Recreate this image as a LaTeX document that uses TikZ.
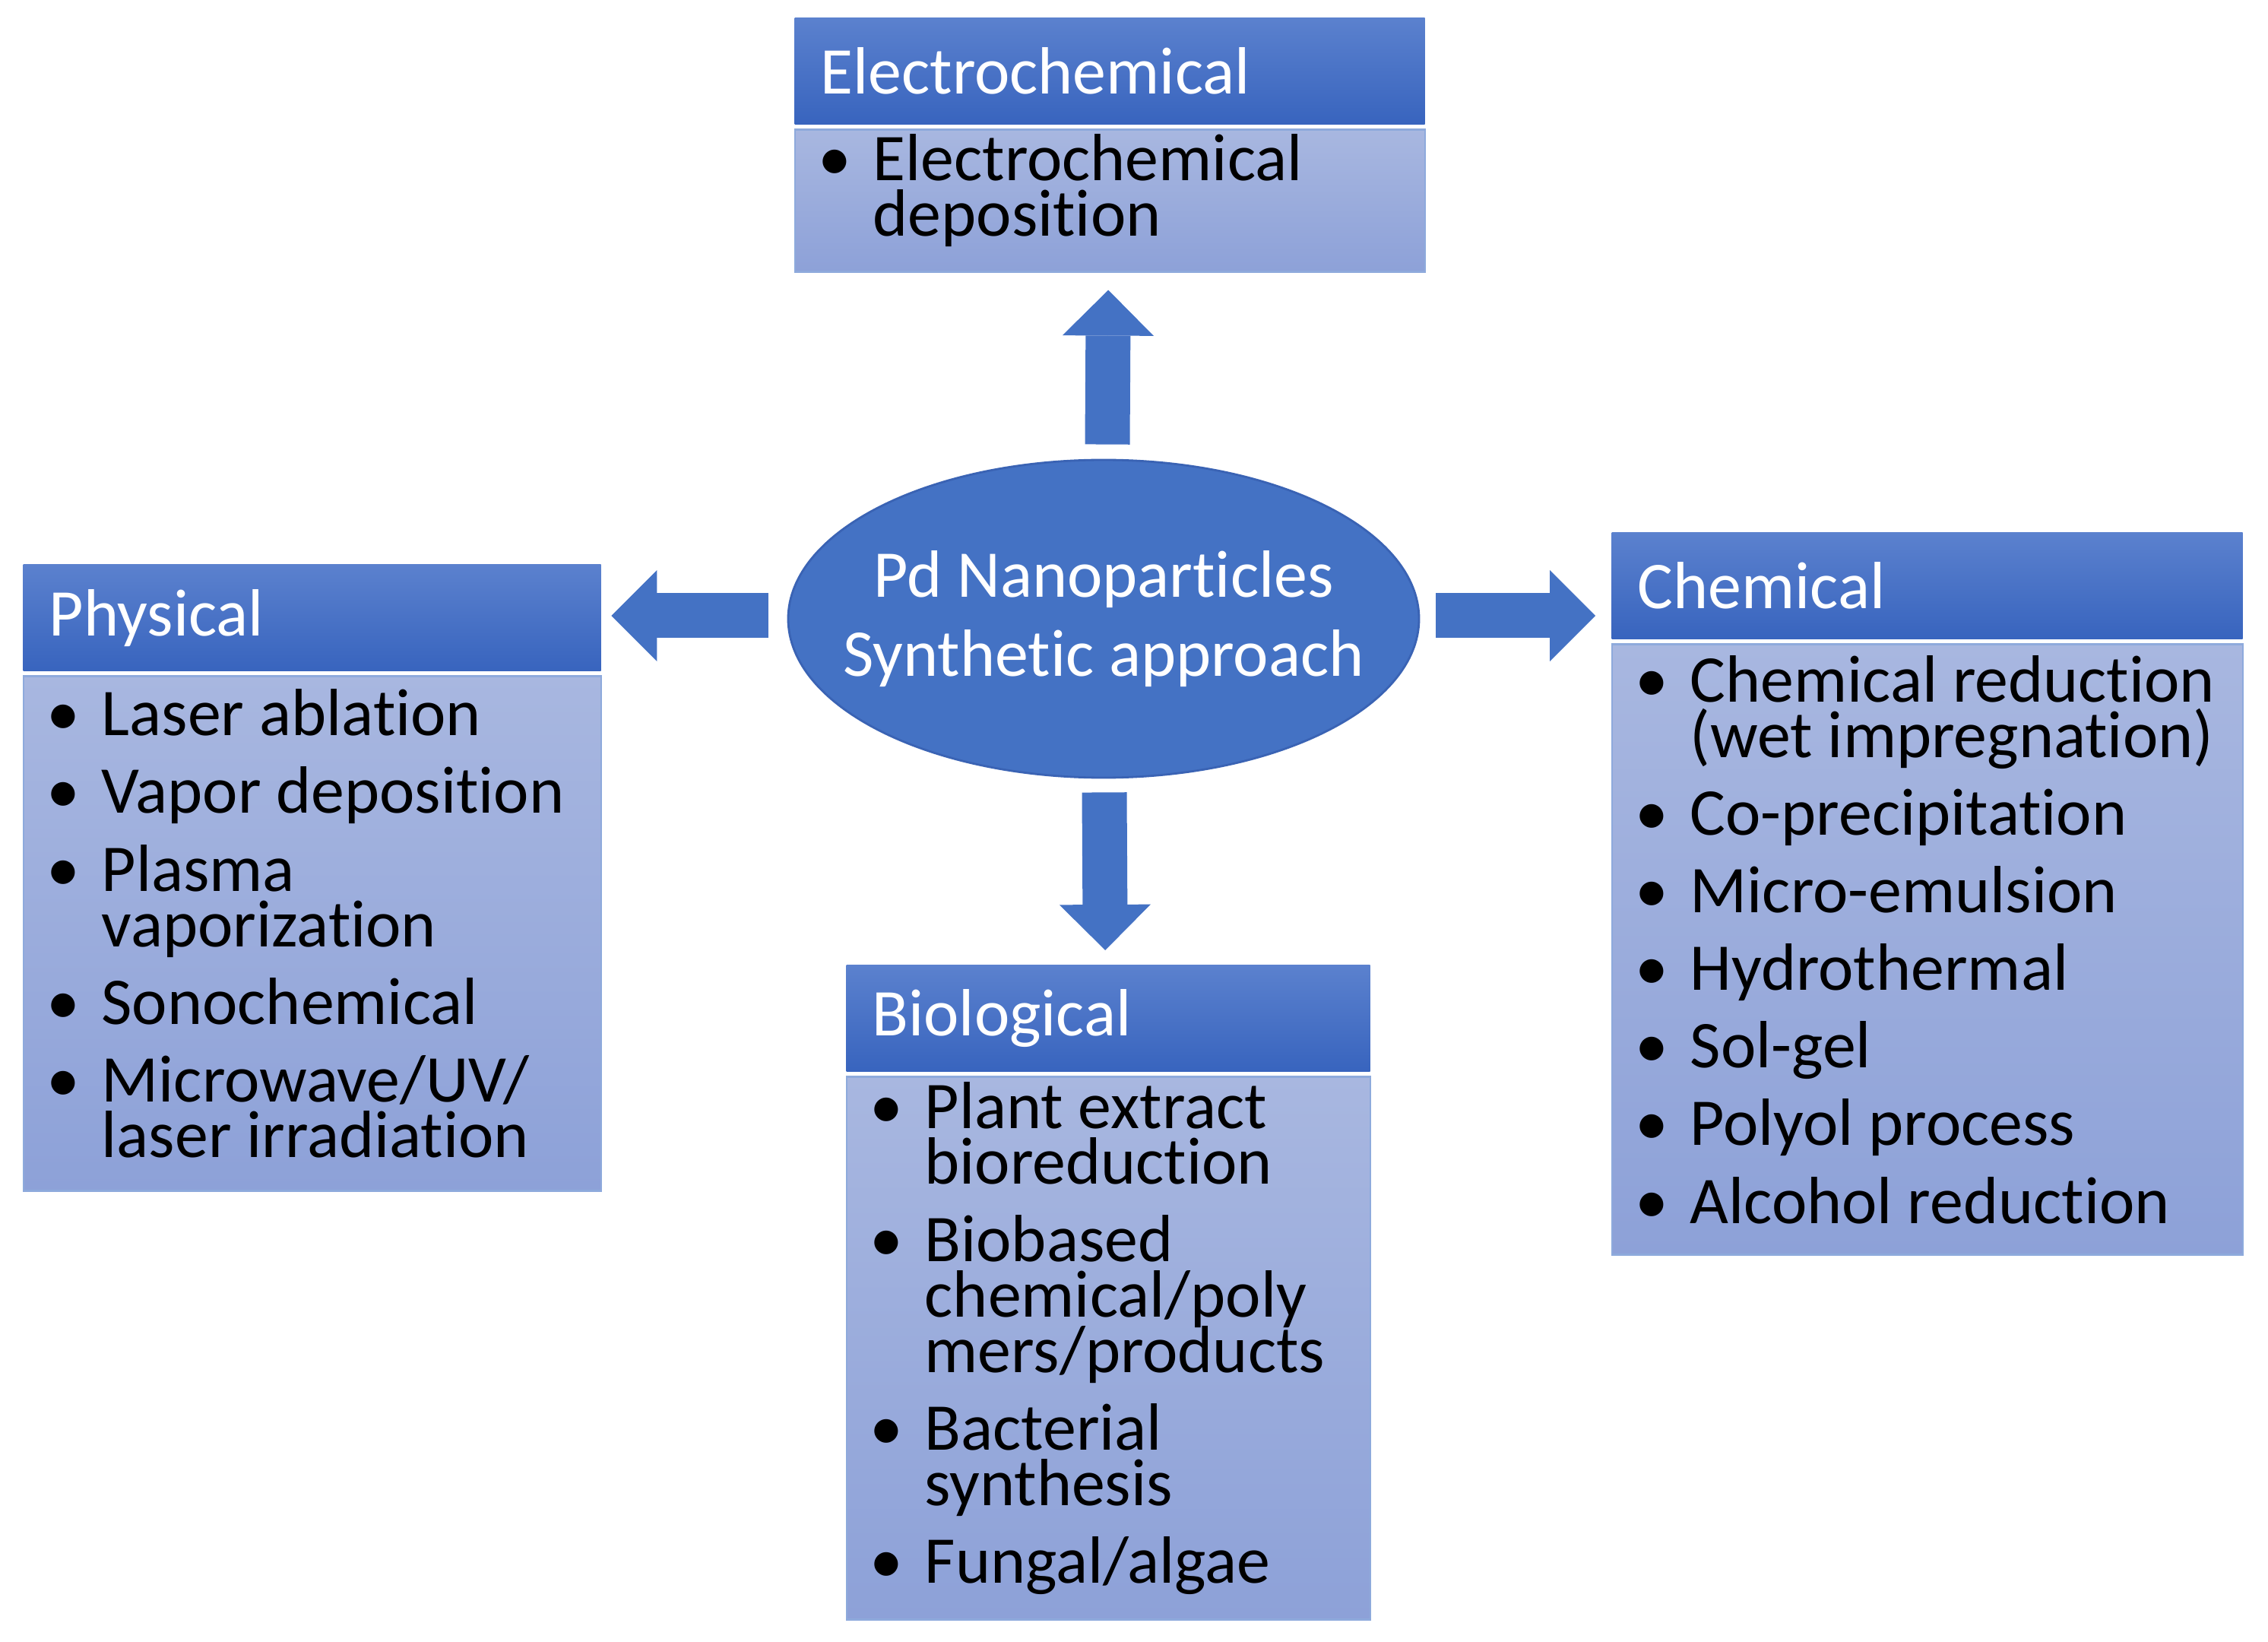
\documentclass[tikz,border=0pt]{standalone}
\usepackage{fontspec}
\setmainfont{Carlito}[Ligatures=NoCommon]
\usepackage{tikz}
\usetikzlibrary{arrows.meta,positioning,calc,shapes.geometric}

\definecolor{accent}{HTML}{4472C4}
\definecolor{accentdk}{HTML}{3A63B4}
\definecolor{headtop}{HTML}{5B81CE}
\definecolor{headbot}{HTML}{3864BE}
\definecolor{bodytop}{HTML}{A8B7E0}
\definecolor{bodybot}{HTML}{8DA1D8}
\definecolor{bodyline}{HTML}{8EAADC}

\newcommand{\bul}{\makebox[0.72cm][l]{\textbullet}}
\newcommand{\ind}{\hspace*{0.72cm}}
\newcommand{\tightlines}{\setlength{\lineskiplimit}{-40pt}}
\newcommand{\bodytail}{\par\vspace*{0.26cm}}

\begin{document}
\begin{tikzpicture}[node distance=0.05cm, >=Latex]
\tikzstyle{head}=[anchor=north west, minimum height=1.40cm, inner xsep=0.34cm, inner ysep=0pt, top color=headtop, bottom color=headbot, text=white, align=flush left, font=\fontsize{25}{20.8}\selectfont]
\tikzstyle{body}=[minimum height=1cm, inner xsep=0.31cm, inner ysep=0pt, top color=bodytop, bottom color=bodybot, draw=bodyline, line width=0.6pt, align=flush left, font=\fontsize{25}{20.8}\selectfont\tightlines, execute at end node=\bodytail]
\tikzstyle{bigarr}=[draw=accent, line width=0.59cm, -{Triangle[length=0.6cm, width=1.2cm, line width=0pt]}]
\path[use as bounding box, fill=white] (0,0) rectangle (29.84,-21.6);

\node[ellipse, fill=accent, draw=accentdk, line width=0.8pt, minimum width=8.3cm, minimum height=4.18cm, inner sep=-1cm, text=white, align=center, font=\fontsize{25}{29.8}\selectfont] (core) at (14.52,-8.14) {Pd Nanoparticles\\Synthetic approach};

\node[head, text width=7.61cm, minimum width=8.29cm] (elechd) at (10.45,-0.23) {Electrochemical};
\node[body, text width=7.67cm, minimum width=8.29cm, minimum height=1.87cm, below=of elechd] (elecbd) {\bul Electrochemical\\ \ind deposition};

\node[head, text width=6.92cm, minimum width=7.60cm] (physhd) at (0.30,-7.42) {Physical};
\node[body, text width=6.98cm, minimum width=7.60cm, minimum height=6.77cm, below=of physhd] (physbd) {\bul Laser~ablation\\[0.29cm] \bul Vapor~deposition\\[0.29cm] \bul Plasma\\ \ind vaporization\\[0.29cm] \bul Sonochemical\\[0.29cm] \bul Microwave/UV/\\ \ind laser~irradiation};

\node[head, text width=7.62cm, minimum width=8.30cm] (chemhd) at (21.20,-7.00) {Chemical};
\node[body, text width=7.68cm, minimum width=8.30cm, minimum height=8.03cm, below=of chemhd] (chembd) {\bul Chemical~reduction\\ \ind (wet~impregnation)\\[0.29cm] \bul Co-precipitation\\[0.29cm] \bul Micro-emulsion\\[0.29cm] \bul Hydrothermal\\[0.29cm] \bul Sol-gel\\[0.29cm] \bul Polyol~process\\[0.29cm] \bul Alcohol~reduction};

\node[head, text width=6.21cm, minimum width=6.89cm] (biohd) at (11.13,-12.69) {Biological};
\node[body, text width=6.27cm, minimum width=6.89cm, minimum height=7.14cm, below=of biohd] (biobd) {\bul Plant~extract\\ \ind bioreduction\\[0.29cm] \bul Biobased\\ \ind chemical/poly\\ \ind mers/products\\[0.29cm] \bul Bacterial\\ \ind synthesis\\[0.29cm] \bul Fungal/algae};

% block arrows
\draw[bigarr] ($(core.north)+(0.05,0.19)$) -- ($(elecbd.south)+(-0.02,-0.23)$);
\draw[bigarr] ($(core.south)+(0.01,-0.18)$) -- ($(biohd.north)+(-0.04,0.19)$);
\draw[bigarr] ($(core.west)+(-0.25,0.04)$) -- ($(physhd.east |- core.west)+(0.13,0.04)$);
\draw[bigarr] ($(core.east)+(0.21,0.04)$) -- ($(chemhd.west |- core.east)+(-0.21,0.04)$);
\end{tikzpicture}
\end{document}
